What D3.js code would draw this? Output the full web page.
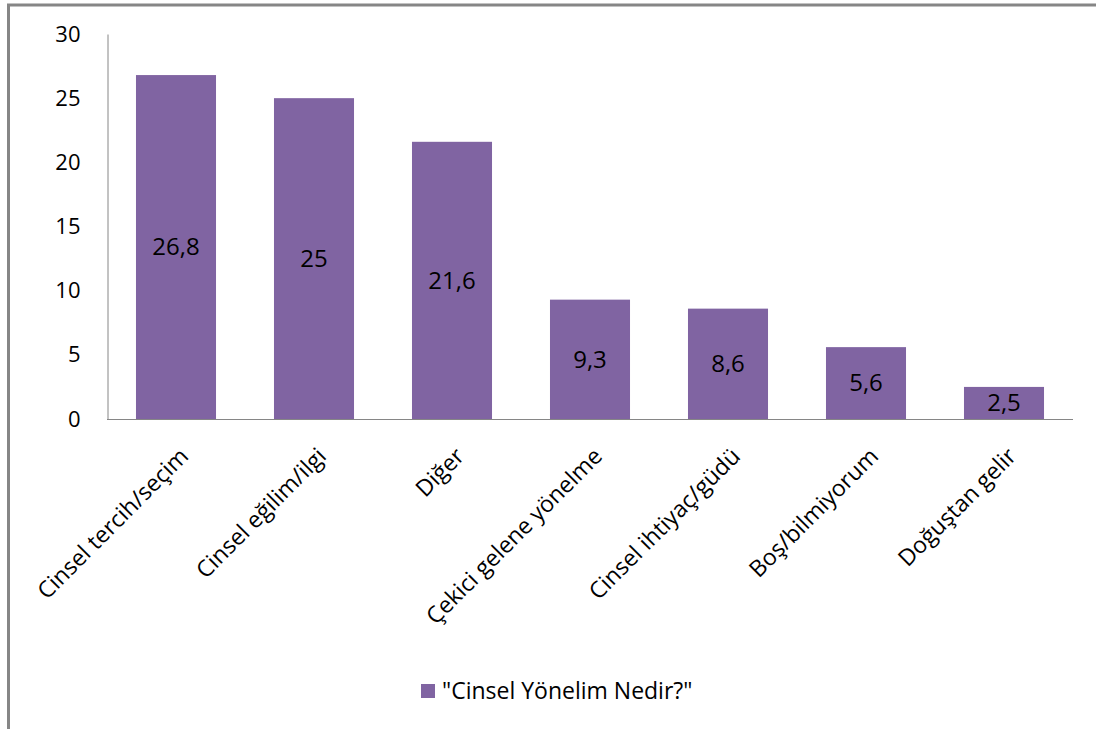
<!DOCTYPE html>
<html><head><meta charset="utf-8">
<script src="https://cdn.jsdelivr.net/npm/d3@7"></script>
<style>body{margin:0;background:#fff}svg{display:block}text{font-family:"Open Sans",sans-serif}</style>
</head><body>
<svg id="c" width="1096" height="729"></svg>
<script>
const categories = ["Cinsel tercih/seçim","Cinsel eğilim/ilgi","Diğer","Çekici gelene yönelme","Cinsel ihtiyaç/güdü","Boş/bilmiyorum","Doğuştan gelir"];
const values = [26.8, 25, 21.6, 9.3, 8.6, 5.6, 2.5];
const labels = ["26,8","25","21,6","9,3","8,6","5,6","2,5"];
const yTicks = [0,5,10,15,20,25,30];
const seriesName = "\"Cinsel Yönelim Nedir?\"";

const svg = d3.select("#c");
const color = "#8064A2";
// chart border (top and left visible)
svg.append("line").attr("x1",8.5).attr("x2",8.5).attr("y1",4).attr("y2",729).attr("stroke","#868686").attr("stroke-width",3);
svg.append("line").attr("x1",7).attr("x2",1096).attr("y1",5).attr("y2",5).attr("stroke","#868686").attr("stroke-width",3);

const x = d3.scaleBand().domain(categories).range([107,1073]).paddingInner(0.42).paddingOuter(0.21);
const y = d3.scaleLinear().domain([0,30]).range([419,34]);

svg.selectAll("rect.bar").data(values).join("rect").attr("class","bar")
  .attr("x",(d,i)=>x(categories[i])).attr("width",x.bandwidth())
  .attr("y",d=>y(d)).attr("height",d=>y(0)-y(d)).attr("fill",color);

// y axis
const ya = svg.append("g").attr("transform","translate(107.5,0)")
  .call(d3.axisLeft(y).tickValues(yTicks).tickSize(0).tickPadding(27).tickFormat(d3.format("d")));
ya.select(".domain").attr("stroke","#868686");
ya.selectAll("text").attr("font-size",22).attr("fill","#000").attr("font-family","Open Sans");

// x axis line
svg.append("line").attr("x1",107).attr("x2",1073).attr("y1",419.5).attr("y2",419.5).attr("stroke","#868686");

// data labels
svg.selectAll("text.dl").data(values).join("text").attr("class","dl")
  .attr("x",(d,i)=>x(categories[i])+x.bandwidth()/2)
  .attr("y",d=>(y(d)+y(0))/2).attr("dy","0.35em")
  .attr("text-anchor","middle").attr("font-size",24).attr("fill","#000")
  .text((d,i)=>labels[i]);

// category labels
svg.selectAll("text.cl").data(categories).join("text").attr("class","cl")
  .attr("transform",d=>`translate(${x(d)+x.bandwidth()/2+8},${452}) rotate(-45)`)
  .attr("text-anchor","end").attr("dy","0.35em").attr("font-size",23).attr("fill","#000")
  .text(d=>d);

// legend
svg.append("rect").attr("x",421).attr("y",684).attr("width",14).attr("height",14).attr("fill",color);
svg.append("text").attr("x",442).attr("y",699).attr("font-size",23).attr("fill","#000").text(seriesName);
</script>
</body></html>
